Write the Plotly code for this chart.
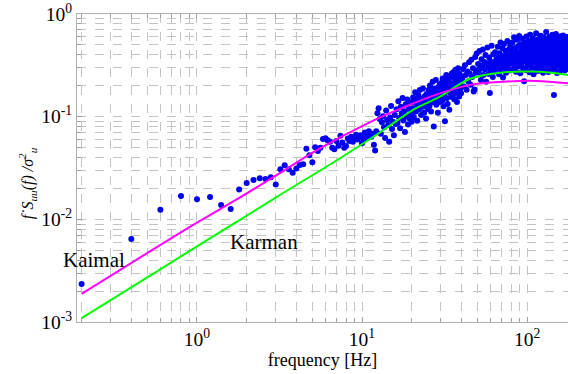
import math
import plotly.graph_objects as go

F_LOW = [0.2, 0.4, 0.6, 0.8, 1.0, 1.2, 1.4, 1.6, 1.8, 2.0, 2.2, 2.4, 2.6, 2.8, 3.0, 3.2, 3.4, 3.6, 3.8, 4.0,
         4.2, 4.4, 4.6, 4.8, 5.0, 5.2, 5.4, 5.6, 5.8, 6.0, 6.2, 6.4, 6.6, 6.8, 7.0, 7.2, 7.4, 7.6, 7.8, 8.0,
         8.2, 8.4, 8.6, 8.8, 9.0, 9.2, 9.4, 9.6, 9.8, 10.0, 10.2, 10.4, 10.6, 10.8, 11.0, 11.2, 11.4, 11.6, 11.8, 12.0]
V_LOW = [0.00235, 0.00644, 0.0124, 0.0169, 0.0157, 0.0165, 0.0138, 0.0126, 0.0195, 0.0226, 0.0242, 0.0251, 0.0247, 0.0257, 0.0218, 0.0308, 0.0336, 0.0308, 0.0285, 0.0312,
         0.0339, 0.0344, 0.0488, 0.042, 0.036, 0.0504, 0.0463, 0.0499, 0.0607, 0.0616, 0.0589, 0.057, 0.0499, 0.0482, 0.058, 0.052, 0.0653, 0.056, 0.0499, 0.0519,
         0.0612, 0.058, 0.0638, 0.057, 0.0612, 0.0668, 0.06, 0.063, 0.066, 0.055, 0.0607, 0.07, 0.0649, 0.062, 0.072, 0.0682, 0.064, 0.0682, 0.0534, 0.0467]

F_MID = [12.2, 12.4, 12.6, 12.8, 13.0, 13.2, 13.4, 13.6, 13.8, 14.0, 14.2, 14.4, 14.6, 14.8, 15.0, 15.2, 15.4, 15.6, 15.8, 16.0,
         16.2, 16.4, 16.6, 16.8, 17.0, 17.2, 17.4, 17.6, 17.8, 18.0, 18.2, 18.4, 18.6, 18.8, 19.0, 19.2, 19.4, 19.6, 19.8, 20.0,
         20.2, 20.4, 20.6, 20.8, 21.0, 21.2, 21.4, 21.6, 21.8, 22.0, 22.2, 22.4, 22.6, 22.8, 23.0, 23.2, 23.4, 23.6, 23.8, 24.0, 24.2, 24.4, 24.6, 24.8, 25.0,
         25.2, 25.4, 25.6, 25.8, 26.0, 26.2, 26.4, 26.6, 26.8, 27.0, 27.2, 27.4, 27.6, 27.8, 28.0, 28.2, 28.4, 28.6, 28.8, 29.0, 29.2, 29.4, 29.6, 29.8, 30.0,
         30.2, 30.4, 30.6, 30.8, 31.0, 31.2, 31.4, 31.6, 31.8, 32.0, 32.2, 32.4, 32.6, 32.8, 33.0, 33.2, 33.4, 33.6, 33.8, 34.0, 34.2, 34.4, 34.6, 34.8, 35.0,
         35.2, 35.4, 35.6, 35.8, 36.0, 36.2, 36.4, 36.6, 36.8, 37.0, 37.2, 37.4, 37.6, 37.8, 38.0, 38.2, 38.4, 38.6, 38.8, 39.0, 39.2, 39.4, 39.6, 39.8, 40.0]
V_MID = [0.072, 0.108, 0.121, 0.095, 0.068, 0.088, 0.101, 0.079, 0.062, 0.115, 0.093, 0.083, 0.057, 0.098, 0.127, 0.076, 0.089, 0.066, 0.104, 0.085,
         0.118, 0.087, 0.141, 0.097, 0.077, 0.125, 0.108, 0.152, 0.092, 0.113, 0.071, 0.132, 0.101, 0.147, 0.084, 0.119, 0.096, 0.138, 0.106, 0.089,
         0.121, 0.154, 0.099, 0.137, 0.173, 0.112, 0.146, 0.091, 0.128, 0.161, 0.118, 0.182, 0.134, 0.104, 0.149, 0.125, 0.188, 0.141, 0.109, 0.158, 0.131, 0.096, 0.166, 0.139, 0.119,
         0.147, 0.183, 0.126, 0.201, 0.163, 0.112, 0.171, 0.138, 0.219, 0.152, 0.08, 0.188, 0.143, 0.167, 0.228, 0.131, 0.176, 0.156, 0.109, 0.194, 0.161, 0.139, 0.207, 0.149, 0.172,
         0.168, 0.214, 0.142, 0.236, 0.187, 0.126, 0.198, 0.159, 0.09, 0.221, 0.176, 0.254, 0.151, 0.193, 0.133, 0.228, 0.181, 0.205, 0.117, 0.245, 0.172, 0.211, 0.156, 0.192, 0.263,
         0.196, 0.244, 0.163, 0.271, 0.213, 0.148, 0.229, 0.186, 0.287, 0.207, 0.171, 0.252, 0.139, 0.224, 0.198, 0.296, 0.179, 0.236, 0.157, 0.262, 0.209, 0.188, 0.247, 0.169, 0.231]

F_HIGH1 = [40.5, 41.0, 41.5, 42.0, 42.5, 43.0, 43.5, 44.0, 44.5, 45.0, 45.5, 46.0, 46.5, 47.0, 47.5, 48.0, 48.5, 49.0, 49.5, 50.0,
           50.5, 51.0, 51.5, 52.0, 52.5, 53.0, 53.5, 54.0, 54.5, 55.0, 55.5, 56.0, 56.5, 57.0, 57.5, 58.0, 58.5, 59.0, 59.5, 60.0,
           60.5, 61.0, 61.5, 62.0, 62.5, 63.0, 63.5, 64.0, 64.5, 65.0, 65.5, 66.0, 66.5, 67.0, 67.5, 68.0, 68.5, 69.0, 69.5, 70.0,
           70.5, 71.0, 71.5, 72.0, 72.5, 73.0, 73.5, 74.0, 74.5, 75.0, 75.5, 76.0, 76.5, 77.0, 77.5, 78.0, 78.5, 79.0, 79.5, 80.0]
V_HIGH1 = [0.238, 0.291, 0.197, 0.317, 0.254, 0.183, 0.276, 0.221, 0.338, 0.262, 0.205, 0.359, 0.243, 0.296, 0.176, 0.184, 0.381, 0.268, 0.412, 0.284,
           0.326, 0.271, 0.437, 0.295, 0.228, 0.362, 0.311, 0.452, 0.254, 0.341, 0.288, 0.398, 0.219, 0.331, 0.472, 0.302, 0.261, 0.378, 0.17, 0.347,
           0.284, 0.491, 0.318, 0.243, 0.405, 0.336, 0.277, 0.423, 0.298, 0.356,
           0.372, 0.298, 0.481, 0.334, 0.259, 0.415, 0.356, 0.528, 0.287, 0.391, 0.322, 0.463, 0.241, 0.368, 0.511, 0.339, 0.302, 0.437, 0.268, 0.395,
           0.348, 0.546, 0.313, 0.384, 0.452, 0.281, 0.363, 0.497, 0.329, 0.406]

F_HIGH2 = [80.5, 81.0, 81.5, 82.0, 82.5, 83.0, 83.5, 84.0, 84.5, 85.0, 85.5, 86.0, 86.5, 87.0, 87.5, 88.0, 88.5, 89.0, 89.5, 90.0,
           90.5, 91.0, 91.5, 92.0, 92.5, 93.0, 93.5, 94.0, 94.5, 95.0, 95.5, 96.0, 96.5, 97.0, 97.5, 98.0, 98.5, 99.0, 99.5, 100.0,
           100.5, 101.0, 101.5, 102.0, 102.5, 103.0, 103.5, 104.0, 104.5, 105.0, 105.5, 106.0, 106.5, 107.0, 107.5, 108.0, 108.5, 109.0, 109.5, 110.0,
           110.5, 111.0, 111.5, 112.0, 112.5, 113.0, 113.5, 114.0, 114.5, 115.0, 115.5, 116.0, 116.5, 117.0, 117.5, 118.0, 118.5, 119.0, 119.5, 120.0,
           120.5, 121.0, 121.5, 122.0, 122.5, 123.0, 123.5, 124.0, 124.5, 125.0, 125.5, 126.0, 126.5, 127.0, 127.5, 128.0, 128.5, 129.0, 129.5, 130.0,
           130.5, 131.0, 131.5, 132.0, 132.5, 133.0, 133.5, 134.0, 134.5, 135.0, 135.5, 136.0, 136.5, 137.0, 137.5, 138.0, 138.5, 139.0, 139.5, 140.0,
           140.5, 141.0, 141.5, 142.0, 142.5, 143.0, 143.5, 144.0, 144.5, 145.0, 145.5, 146.0, 146.5, 147.0, 147.5, 148.0, 148.5, 149.0, 149.5, 150.0,
           150.5, 151.0, 151.5, 152.0, 152.5, 153.0, 153.5, 154.0, 154.5, 155.0, 155.5, 156.0, 156.5, 157.0, 157.5, 158.0, 158.5, 159.0, 159.5, 160.0,
           160.5, 161.0, 161.5, 162.0, 162.5, 163.0, 163.5, 164.0, 164.5, 165.0, 165.5, 166.0, 166.5, 167.0, 167.5, 168.0, 168.5, 169.0, 169.5, 170.0,
           170.5, 171.0, 171.5, 172.0, 172.5, 173.0, 173.5, 174.0, 174.5, 175.0, 175.5, 176.0, 176.5, 177.0]
V_HIGH2 = [0.412, 0.336, 0.527, 0.289, 0.448, 0.371, 0.593, 0.318, 0.466, 0.395,
           0.274, 0.431, 0.356, 0.561, 0.402, 0.308, 0.489, 0.377, 0.612, 0.343,
           0.424, 0.265, 0.508, 0.389, 0.327, 0.455, 0.576, 0.361, 0.297, 0.437,
           0.398, 0.221, 0.532, 0.415, 0.349, 0.478, 0.283, 0.604, 0.372, 0.441,
           0.316, 0.493, 0.383, 0.547, 0.338, 0.419, 0.271, 0.462, 0.629, 0.356,
           0.405, 0.302, 0.518, 0.391, 0.447, 0.335, 0.585, 0.426, 0.259, 0.474,
           0.367, 0.541, 0.408, 0.293, 0.457, 0.382, 0.651, 0.349, 0.436, 0.313,
           0.502, 0.396, 0.278, 0.468, 0.571, 0.354, 0.421, 0.329, 0.519, 0.443,
           0.385, 0.614, 0.342, 0.451, 0.296, 0.486, 0.403, 0.557, 0.368, 0.268,
           0.434, 0.379, 0.594, 0.325, 0.472, 0.411, 0.536, 0.287, 0.449, 0.362,
           0.668, 0.397, 0.306, 0.483, 0.427, 0.553, 0.351, 0.446, 0.273, 0.512,
           0.388, 0.459, 0.334, 0.602, 0.417, 0.365, 0.496, 0.283, 0.441, 0.378,
           0.548, 0.321, 0.469, 0.406, 0.627, 0.352, 0.433, 0.291, 0.517, 0.394,
           0.163, 0.476, 0.345, 0.581, 0.413, 0.302, 0.455, 0.372, 0.639, 0.429,
           0.338, 0.501, 0.387, 0.266, 0.463, 0.544, 0.359, 0.421, 0.317, 0.589,
           0.402, 0.474, 0.333, 0.528, 0.445, 0.279, 0.418, 0.366, 0.607, 0.391,
           0.457, 0.324, 0.535, 0.409, 0.296, 0.482, 0.376, 0.562, 0.436, 0.347,
           0.618, 0.395, 0.311, 0.467, 0.423, 0.552, 0.358, 0.281, 0.494, 0.413,
           0.375, 0.583, 0.339, 0.448, 0.402, 0.526, 0.292, 0.461, 0.369, 0.597,
           0.427, 0.318, 0.509, 0.384]

# ---- model curves ----
F_KAIMAL = [0.2, 0.5, 1.0, 1.75, 3.0, 5.56, 11.2, 17.8, 28.4, 45.2, 72, 114, 177]
V_KAIMAL = [0.00188, 0.0047, 0.0093, 0.0157, 0.0266, 0.049, 0.0885, 0.123, 0.165, 0.204, 0.219, 0.223, 0.211]
F_KARMAN = [0.2, 0.5, 1.0, 1.75, 3.0, 7.2, 12.9, 20.5, 29.7, 45.2, 72, 104, 140, 177]
V_KARMAN = [0.00109, 0.00272, 0.00545, 0.0095, 0.0163, 0.0385, 0.0705, 0.117, 0.157, 0.234, 0.270, 0.275, 0.268, 0.255]

# ---- axes ----
X_MAJOR_VALS = [1, 10, 100]
X_MAJOR_TEXT = ["10<sup>0</sup>", "10<sup>1</sup>", "10<sup>2</sup>"]
Y_MAJOR_VALS = [0.001, 0.01, 0.1, 1]
Y_MAJOR_TEXT = ["10<sup>-3</sup>", "10<sup>-2</sup>", "10<sup>-1</sup>", "10<sup>0</sup>"]
Y_TITLE = "<i>f˙S<sub>uu</sub>(f) /σ<sup>2</sup><sub>u</sub></i>"
X_TITLE = "frequency [Hz]"

LABELS = [("Kaimal", 0.238, 0.00403), ("Karman", 2.55, 0.00603)]

FONT = "Liberation Serif, Times New Roman, serif"
GRID = "#c4c4c4"

fig = go.Figure()
fig.add_trace(go.Scatter(x=F_LOW + F_MID + F_HIGH1 + F_HIGH2, y=V_LOW + V_MID + V_HIGH1 + V_HIGH2,
                         mode="markers", marker=dict(color="#0000f0", size=6), cliponaxis=True,
                         showlegend=False))
fig.add_trace(go.Scatter(x=F_KARMAN, y=V_KARMAN, mode="lines", line=dict(color="#00ff00", width=2, shape="spline"),
                         showlegend=False))
fig.add_trace(go.Scatter(x=F_KAIMAL, y=V_KAIMAL, mode="lines", line=dict(color="#ff00ff", width=2, shape="spline"),
                         showlegend=False))

for txt, fx, fy in LABELS:
    fig.add_annotation(x=math.log10(fx), y=math.log10(fy), xref="x", yref="y", text=txt, showarrow=False,
                       font=dict(family=FONT, size=21, color="black"))

# y-axis title as a rotated annotation (placed like the reference)
fig.add_annotation(x=-0.1, y=0.45, xref="paper", yref="paper", text=Y_TITLE, textangle=-90,
                   showarrow=False, xanchor="center", yanchor="middle",
                   font=dict(family=FONT, size=16, color="black"))

minor_style = dict(dtick="D1", showgrid=True, gridcolor=GRID, griddash="dash", gridwidth=1,
                   ticks="inside", ticklen=4, tickcolor="#a0a0a0")

fig.update_xaxes(type="log", range=[math.log10(0.1875), math.log10(177)],
                 tickmode="array", tickvals=X_MAJOR_VALS, ticktext=X_MAJOR_TEXT,
                 minor=minor_style,
                 showgrid=True, gridcolor=GRID, griddash="dash", gridwidth=1,
                 ticks="inside", ticklen=5, tickcolor="#a0a0a0",
                 showline=True, linecolor="#b0b0b0", linewidth=1, mirror="allticks",
                 zeroline=False, tickfont=dict(family=FONT, size=19.5, color="black"),
                 title=dict(text=X_TITLE, font=dict(family=FONT, size=18, color="black"), standoff=3))
fig.update_yaxes(type="log", range=[-3, 0],
                 tickmode="array", tickvals=Y_MAJOR_VALS, ticktext=Y_MAJOR_TEXT,
                 minor=minor_style,
                 showgrid=True, gridcolor=GRID, griddash="dash", gridwidth=1,
                 ticks="inside", ticklen=5, tickcolor="#a0a0a0",
                 showline=True, linecolor="#b0b0b0", linewidth=1, mirror=False,
                 zeroline=False, tickfont=dict(family=FONT, size=19.5, color="black"))

fig.update_layout(width=568, height=374, margin=dict(l=77, r=0, t=14, b=52),
                  plot_bgcolor="white", paper_bgcolor="white", showlegend=False)

fig.write_html("out.html")
